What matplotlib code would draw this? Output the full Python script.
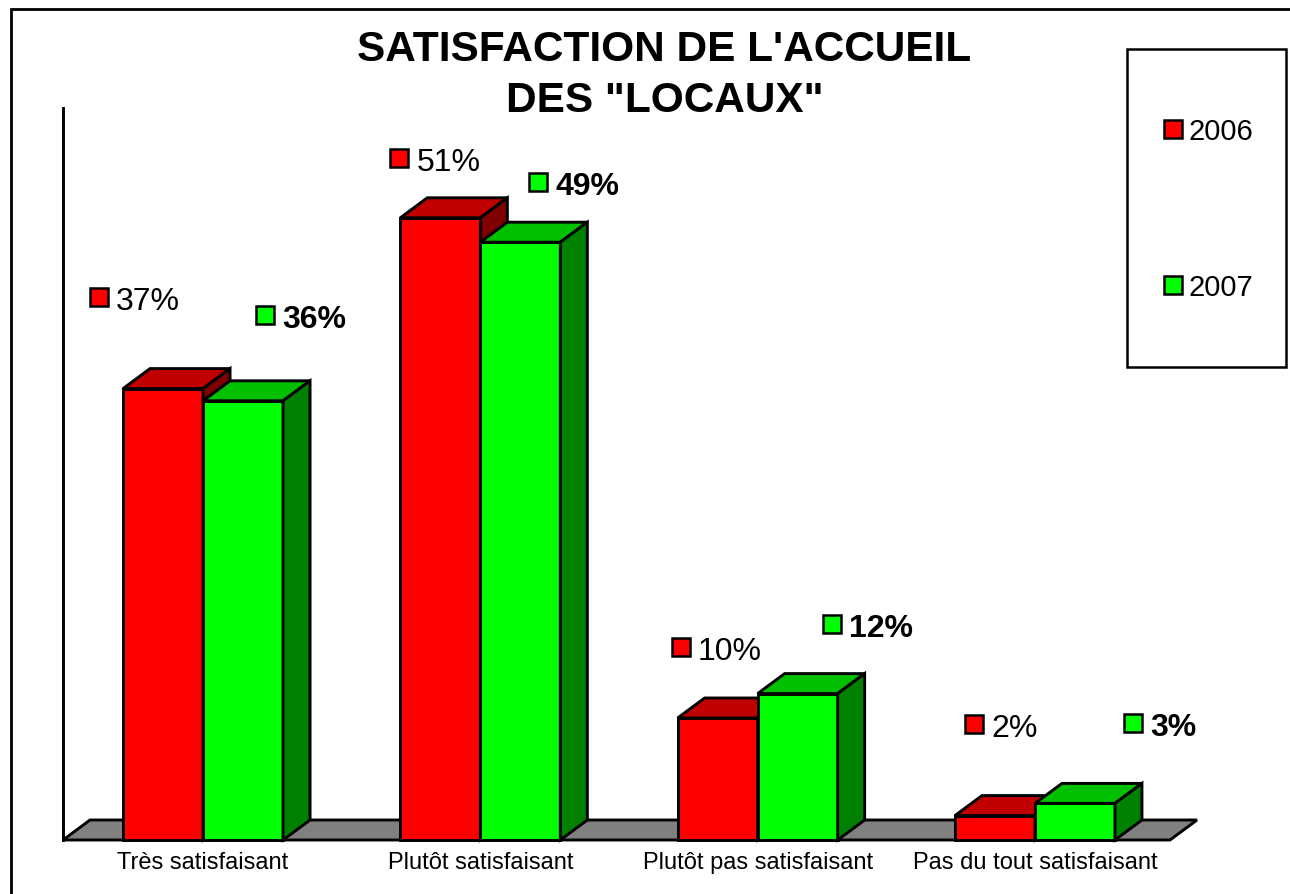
import matplotlib
matplotlib.use("Agg")
import matplotlib.pyplot as plt
from matplotlib.patches import Polygon, Rectangle
from matplotlib.transforms import offset_copy

plt.rcParams["font.family"] = ["Liberation Sans", "DejaVu Sans"]

categories = ["Très satisfaisant", "Plutôt satisfaisant",
              "Plutôt pas satisfaisant", "Pas du tout satisfaisant"]
years = ["2006", "2007"]
vals_2006 = [37, 51, 10, 2]
vals_2007 = [36, 49, 12, 3]

# hand-placed label offsets in pixels (from top centre of each bar)
off_2006 = [(-73, 92), (-50, 60), (-46, 71), (-30, 92)]
off_2007 = [(13, 86), (9, 60), (25, 70), (49, 80)]

W, H = 1290, 895
fig = plt.figure(figsize=(W / 100, H / 100), dpi=100)
fig.patch.set_facecolor("white")

x_lo, x_hi = -0.505, 3.487
ax = fig.add_axes([63 / W, 54 / H, 1107 / W, 732 / H])
ax.set_xlim(x_lo, x_hi)
ax.set_ylim(0, 60)
ax.axis("off")

px_x = 1107 / (x_hi - x_lo)
px_y = 732 / 60
bw = 80 / px_x
dx = 27 / px_x
dy = 20 / px_y
lw = 2.1

reds = ("#ff0000", "#c00000", "#800000")
greens = ("#00ff00", "#00c000", "#008000")

# floor and wall line
ax.add_patch(Polygon([(x_lo, 0), (x_hi, 0), (x_hi + dx, dy), (x_lo + dx, dy)],
                     closed=True, fc="#808080", ec="black", lw=lw,
                     joinstyle="miter", clip_on=False))
ax.plot([x_lo, x_lo], [0, 60], color="black", lw=lw, clip_on=False)


def bar3d(x0, h, cols):
    front, top, side = cols
    ax.add_patch(Polygon([(x0, 0), (x0 + bw, 0), (x0 + bw, h), (x0, h)],
                         fc=front, ec="black", lw=lw, joinstyle="miter", clip_on=False))
    ax.add_patch(Polygon([(x0, h), (x0 + bw, h), (x0 + bw + dx, h + dy), (x0 + dx, h + dy)],
                         fc=top, ec="black", lw=lw, joinstyle="miter", clip_on=False))
    ax.add_patch(Polygon([(x0 + bw, 0), (x0 + bw + dx, dy), (x0 + bw + dx, h + dy), (x0 + bw, h)],
                         fc=side, ec="black", lw=lw, joinstyle="miter", clip_on=False))


def label(xc, h, off, col, text, bold):
    ox, oy = off
    tm = offset_copy(ax.transData, fig, x=ox + 9, y=oy, units="dots")
    ax.plot(xc, h, marker="s", ms=12.5, mfc=col, mec="black", mew=1.8,
            transform=tm, clip_on=False)
    tt = offset_copy(ax.transData, fig, x=ox + 26, y=oy - 12, units="dots")
    ax.text(xc, h, text, transform=tt, fontsize=23, ha="left", va="baseline",
            fontweight="bold" if bold else "normal")


for i, cat in enumerate(categories):
    bar3d(i - bw, vals_2006[i], reds)
    bar3d(i, vals_2007[i], greens)
    label(i - bw / 2, vals_2006[i], off_2006[i], reds[0], f"{vals_2006[i]}%", False)
    label(i + bw / 2, vals_2007[i], off_2007[i], greens[0], f"{vals_2007[i]}%", True)
    tc = offset_copy(ax.transData, fig, x=0, y=-28, units="dots")
    ax.text(i, 0, cat, transform=tc, fontsize=17, ha="center", va="baseline")

# title
fig.text(664.5 / W, 1 - 61 / H, "SATISFACTION DE L'ACCUEIL", fontsize=30.5,
         fontweight="bold", ha="center", va="baseline")
fig.text(664.5 / W, 1 - 112 / H, 'DES "LOCAUX"', fontsize=30.5,
         fontweight="bold", ha="center", va="baseline")

# legend box
fig.add_artist(Rectangle((1127 / W, 1 - 368 / H), 159 / W, 318 / H,
                         transform=fig.transFigure, fill=False, ec="black", lw=1.8))
for yr, col, yc in zip(years, (reds[0], greens[0]), (130, 286)):
    fig.add_artist(Rectangle((1164 / W, 1 - (yc + 9) / H), 18 / W, 18 / H,
                             transform=fig.transFigure, fc=col, ec="black", lw=1.8))
    fig.text(1188 / W, 1 - (yc + 10) / H, yr, fontsize=21, ha="left", va="baseline")

# outer frame (cut off on the right and bottom)
fig.add_artist(Rectangle((11 / W, -0.5), 2, 1.5 - 10 / H,
                         transform=fig.transFigure, fill=False, ec="black", lw=2))

plt.savefig("out.png", dpi=100)
